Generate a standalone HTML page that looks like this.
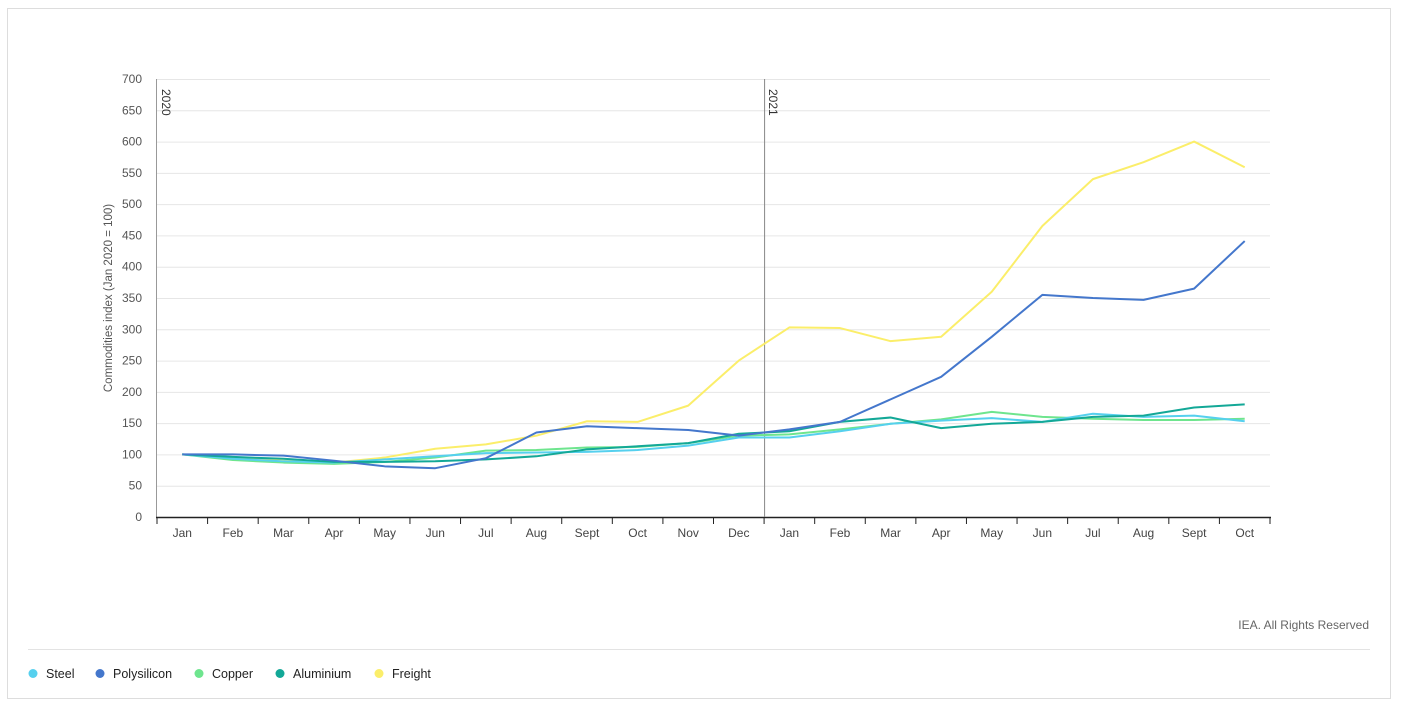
<!DOCTYPE html>
<html><head><meta charset="utf-8"><style>
body{margin:0;background:#fff;font-family:"Liberation Sans",sans-serif;}
svg text{font-family:"Liberation Sans",sans-serif;}
</style></head><body>
<svg id="chart" width="1401" height="708" xmlns="http://www.w3.org/2000/svg">
<rect x="7.5" y="8.5" width="1383" height="690" fill="#fff" stroke="#ddd"/>
<g id="grid"></g><g id="axes"></g><g id="series"></g>
<text x="1369" y="629" text-anchor="end" font-size="12" fill="#666">IEA. All Rights Reserved</text>
<line x1="28" y1="649.5" x2="1370" y2="649.5" stroke="#e3e3e3"/>
<g id="legend"></g>
</svg>
<script>
const categories=["Jan","Feb","Mar","Apr","May","Jun","Jul","Aug","Sept","Oct","Nov","Dec","Jan","Feb","Mar","Apr","May","Jun","Jul","Aug","Sept","Oct"];
const yTicks=[0,50,100,150,200,250,300,350,400,450,500,550,600,650,700];
const seriesNames=["Steel","Polysilicon","Copper","Aluminium","Freight"];
const seriesColors=["#56d0ee","#4477cc","#6ee58e","#13a897","#fbee6a"];
const steel=[100,93,89,87,92,97,102,103,104,107,114,127,127,137,149,154,158,152,165,160,162,153];
const polysilicon=[100,100,98,90,81,78,94,135,145,142,139,130,140,152,188,224,288,355,350,347,365,441];
const copper=[100,91,87,85,88,95,106,107,111,112,118,130,132,140,149,156,168,160,157,155,155,157];
const aluminium=[100,96,93,88,88,89,92,97,108,113,118,133,137,152,159,142,149,152,160,162,175,180];
const freight=[100,95,90,87,95,109,116,130,153,152,178,250,303,302,281,288,360,465,540,567,600,559];
const yearLabels=["2020","2021"];
const yearStartIdx=[0,12];
const NS="http://www.w3.org/2000/svg";
const L=157,R=1270,T=79,B=517,yMax=700;
const bw=(R-L)/categories.length;
const x=i=>L+bw*(i+0.5);
const y=v=>B-(v/yMax)*(B-T);
function mk(tag,attrs,parent){const e=document.createElementNS(NS,tag);for(const k in attrs)e.setAttribute(k,attrs[k]);parent.appendChild(e);return e;}
const grid=document.getElementById('grid'),axes=document.getElementById('axes'),ser=document.getElementById('series'),leg=document.getElementById('legend');
yTicks.forEach(t=>{
  if(t>0){const g=mk('line',{x1:L,x2:R,y1:y(t)+.5,y2:y(t)+.5,stroke:'#e6e6e6'},grid);
  
  }
  const tx=mk('text',{x:142,y:y(t)+4,'text-anchor':'end','font-size':12,fill:'#555'},axes);tx.textContent=t;
  
  
});
const yt=mk('text',{transform:`translate(112,${(T+B)/2}) rotate(-90)`,'text-anchor':'middle','font-size':11.5,fill:'#555'},axes);
yt.textContent="Commodities index (Jan 2020 = 100)";


const ya=mk('line',{x1:L-.5,x2:L-.5,y1:T,y2:B,stroke:'#999'},axes);


const xa=mk('line',{x1:L-1,x2:R+1,y1:B+.5,y2:B+.5,stroke:'#222','stroke-width':1.5},axes);


for(let i=0;i<=categories.length;i++){const tk=mk('line',{x1:L+bw*i,x2:L+bw*i,y1:B,y2:B+7,stroke:'#222'},axes);

}
categories.forEach((c,i)=>{const t=mk('text',{x:x(i),y:537,'text-anchor':'middle','font-size':12,fill:'#444'},axes);t.textContent=c;

});
yearLabels.forEach((yl,k)=>{const xx=L+bw*yearStartIdx[k];
  if(k>0){const vl=mk('line',{x1:xx+.5,x2:xx+.5,y1:T,y2:B,stroke:'#888'},axes);
  
  }
  const t=mk('text',{transform:`translate(${xx+5},${T+10}) rotate(90)`,'font-size':12,fill:'#333'},axes);t.textContent=yl;
  
  
});
const data=[steel,polysilicon,copper,aluminium,freight];
const order=[4,2,0,3,1];
order.forEach(s=>{const p=mk('polyline',{points:data[s].map((v,i)=>x(i)+','+y(v)).join(' '),fill:'none',stroke:seriesColors[s],'stroke-width':2,'stroke-linejoin':'round'},ser);

});
const legX=[33,100,199,280,379];
seriesNames.forEach((n,s)=>{const g=mk('g',{},leg);


mk('circle',{cx:legX[s],cy:673.5,r:4.5,fill:seriesColors[s]},g);
const t=mk('text',{x:legX[s]+13,y:678,'font-size':12.5,fill:'#222'},g);t.textContent=n;});
</script>
</body></html>
